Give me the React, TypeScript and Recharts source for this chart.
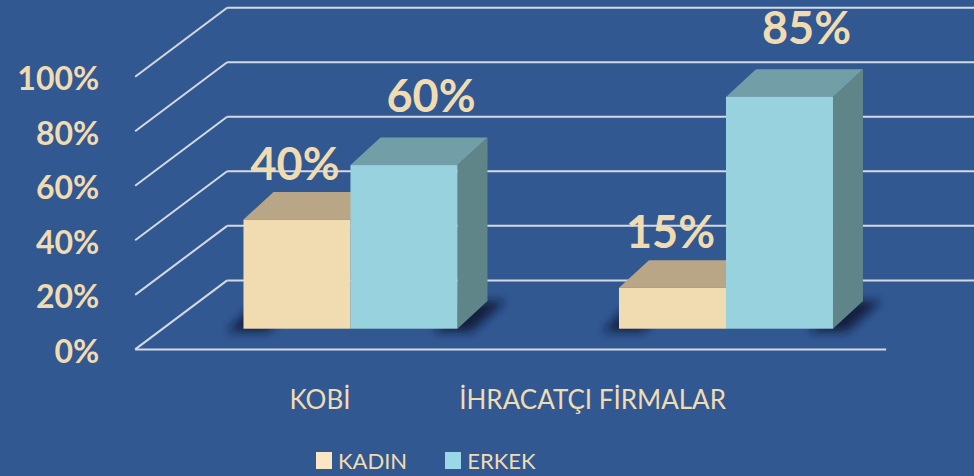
import React from 'react'
import {
  BarChart, Bar, XAxis, YAxis, CartesianGrid, Legend, LabelList,
} from 'recharts'

const categories = ['KOBİ', 'İHRACATÇI FİRMALAR']
const kadin = [0.4, 0.15]
const erkek = [0.6, 0.85]
const yTicks = [0, 0.2, 0.4, 0.6, 0.8, 1]
const seriesNames = ['KADIN', 'ERKEK']

const data = categories.map((name, i) => ({ name, kadin: kadin[i], erkek: erkek[i] }))

const BG = '#325892'
const CREAM = '#f1dcb1'
const GRID = '#d5d9e2'
const FONT = 'Lato, "Liberation Sans", sans-serif'

// bar depth (3d box)
const DX = 30
const DY = -27.6
// floor depth: front edge -> back wall, bars stand at 30% of it
const FX = 92
const FY = -69
const FPOS = 0.3

const pct = (v: number) => `${Math.round(v * 100)}%`

function gridLine(p: any) {
  const { x1, x2, y1, y, height, index } = p
  const fx = -FX * FPOS
  const fy = -FY * FPOS
  const bx = FX * (1 - FPOS)
  const by = FY * (1 - FPOS)
  const isBase = Math.abs(y1 - (y + height)) < 1
  return (
    <g key={`grid-${index}`} stroke={GRID} strokeWidth={2}>
      <line x1={x1 + fx} y1={y1 + fy} x2={x1 + bx} y2={y1 + by} />
      <line x1={x1 + bx} y1={y1 + by} x2={x2 + bx + 10} y2={y1 + by} />
      {isBase && <line x1={x1 + fx} y1={y1 + fy} x2={x2 + fx} y2={y1 + fy} />}
    </g>
  )
}

function box(front: string, top: string, side: string, shadowSide: 'left' | 'right') {
  return (p: any) => {
    const { x, y, width: w, height: h, index } = p
    const b = y + h
    const id = `shadow-${shadowSide}-${index}`
    const sh = shadowSide === 'left'
      ? [[x - 16, b + 3], [x + 24, b + 3], [x + 24 + DX, b + DY], [x - 16 + DX, b + DY]]
      : [[x + w - 24, b + 3], [x + w + 14, b + 3], [x + w + DX + 18, b + DY], [x + w + DX - 24, b + DY]]
    const pts = (a: number[][]) => a.map((q) => q.join(',')).join(' ')
    return (
      <g>
        <defs>
          <filter id={id} x="-50%" y="-50%" width="200%" height="200%">
            <feGaussianBlur stdDeviation={5} />
          </filter>
        </defs>
        <polygon points={pts(sh)} fill="#0b1730" opacity={0.85} filter={`url(#${id})`} />
        <polygon
          points={pts([[x + w, y], [x + w + DX, y + DY], [x + w + DX, b + DY], [x + w, b]])}
          fill={side}
        />
        <polygon
          points={pts([[x, y], [x + DX, y + DY], [x + w + DX, y + DY], [x + w, y]])}
          fill={top}
        />
        <rect x={x} y={y} width={w} height={h} fill={front} />
      </g>
    )
  }
}

function barLabel(dx: number, dy: number) {
  return (p: any) => (
    <text
      x={p.x + p.width / 2 + dx}
      y={p.y + dy}
      textAnchor="middle"
      fill={CREAM}
      fontSize={45}
      fontWeight={700}
      fontFamily={FONT}
    >
      {pct(p.value)}
    </text>
  )
}

const yTick = (p: any) => (
  <text x={p.x - 63.5} y={p.y + 34} textAnchor="end" fill={CREAM}
    fontSize={32} fontWeight={700} fontFamily={FONT}>
    {pct(p.payload.value)}
  </text>
)

const xTick = (p: any) => (
  <text x={p.x} y={p.y + 80} textAnchor="end" fill={CREAM} fontSize={26} fontFamily={FONT}>
    {p.payload.value}
  </text>
)

const legendColors = ['#fbe6c3', '#9ad8e8']

const legendContent = () => (
  <div style={{
    display: 'flex', alignItems: 'center', height: 36, paddingLeft: 316,
    fontFamily: FONT, fontSize: 22, color: CREAM, boxSizing: 'border-box', paddingTop: 4,
  }}>
    {seriesNames.map((n, i) => (
      <div key={n} style={{ display: 'flex', alignItems: 'center', marginRight: 38 }}>
        <span style={{ width: 16, height: 17, background: legendColors[i], marginRight: 6, display: 'inline-block' }} />
        <span>{n}</span>
      </div>
    ))}
  </div>
)

export default function App() {
  return (
    <div style={{ position: 'absolute', left: 0, top: 0, width: 974, height: 476, background: BG }}>
      <BarChart
        width={974}
        height={476}
        data={data}
        margin={{ top: 56, right: 60.25, left: 62.75, bottom: 0 }}
        barCategoryGap="21.5%"
        barGap={0}
      >
        <CartesianGrid vertical={false} horizontal={gridLine} />
        <XAxis dataKey="name" height={111.3} axisLine={false} tickLine={false}
          tickSize={0} tickMargin={0} tick={xTick} interval={0} />
        <YAxis domain={[0, 1]} ticks={yTicks} width={100} axisLine={false} tickLine={false}
          tickSize={0} tickMargin={0} tick={yTick} />
        <Legend verticalAlign="bottom" content={legendContent}
          wrapperStyle={{ left: 0, width: 974, height: 36, bottom: 0 }} />
        <Bar dataKey="kadin" name={seriesNames[0]} fill="#f1dcb2" isAnimationActive={false}
          shape={box('#f1dcb2', '#b8a686', '#8f8168', 'left')}>
          <LabelList dataKey="kadin" content={barLabel(-2, -40)} />
        </Bar>
        <Bar dataKey="erkek" name={seriesNames[1]} fill="#97d2de" isAnimationActive={false}
          shape={box('#97d2de', '#729ea8', '#5f8589', 'right')}>
          <LabelList dataKey="erkek" content={barLabel(27, -53)} />
        </Bar>
      </BarChart>
    </div>
  )
}
